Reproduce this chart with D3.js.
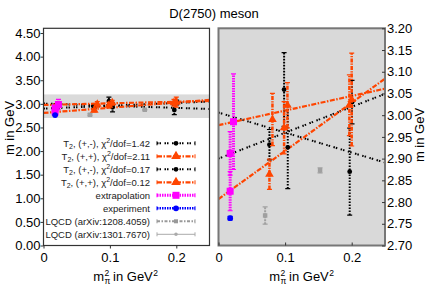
<!doctype html>
<html>
<head>
<meta charset="utf-8">
<title>D(2750) meson</title>
<script src="https://d3js.org/d3.v7.min.js"></script>
<style>
  body { margin: 0; background: #fff; }
  svg { display: block; font-family: "Liberation Sans", Arial, sans-serif; }
</style>
</head>
<body>
<svg id="chart" width="428" height="300"></svg>
<script>
// fit lines, value at m_pi^2 = 0 and at 0.25
const fitX = [0, 0.25];
const fitBlackA = [3.006, 2.891];
const fitBlackB = [2.900, 3.049];
const fitOrangeA = [2.977, 3.061];
const fitOrangeB = [2.807, 3.084];

// lattice points
const blackXA = [0.0765, 0.104, 0.2005];
const blackYA = [2.932, 2.926, 3.030];
const blackEA = [0.035, 0.095, 0.050];
const blackXB = [0.0985, 0.197];
const blackYB = [3.059, 2.870];
const blackEB = [0.085, 0.100];
const orangeXA = [0.081, 0.1035, 0.200];
const orangeYA = [2.990, 3.023, 3.036];
const orangeEA = [0.060, 0.052, 0.107];
const orangeXB = [0.0765, 0.0985, 0.1965];
const orangeYB = [2.864, 2.971, 3.023];
const orangeEB = [0.035, 0.060, 0.070];

const extrapX = [0.0225, 0.0175, 0.0175];
const extrapY = [2.985, 2.912, 2.825];
const extrapE = [0.110, 0.050, 0.045];
const expX = [0.0175];
const expY = [2.763];
const expE = [0.004];
const lqcdX = [0.070, 0.1525];
const lqcdY = [2.769, 2.873];
const lqcdE = [0.020, 0.006];

const xTicks = [0, 0.1, 0.2];
const leftYTicks = [0, 0.5, 1, 1.5, 2, 2.5, 3, 3.5, 4, 4.5];
const rightYTicks = [2.70, 2.75, 2.80, 2.85, 2.90, 2.95, 3.00, 3.05, 3.10, 3.15, 3.20];
const zoomBand = [2.7, 3.2];

const legendParity = ["(+,-)", "(+,+)", "(+,-)", "(+,+)"];
const legendChi = ["1.42", "2.11", "0.17", "0.12"];
const legendOther = ["extrapolation", "experiment", "LQCD (arXiv:1208.4059)", "LQCD (arXiv:1301.7670)"];

const ORANGE = "#ff4500";
const svg = d3.select("#chart");

const fits = [
  {y: fitBlackA, color: "#000", dash: "1.5,1,1.5,3.5", w: 2},
  {y: fitBlackB, color: "#000", dash: "1.5,1,1.5,3.5", w: 2},
  {y: fitOrangeA, color: ORANGE, dash: "5,1.5,1.5,1.5", w: 2.2},
  {y: fitOrangeB, color: ORANGE, dash: "5,1.5,1.5,1.5", w: 2.2}
];

const series = [
  {x: lqcdX, y: lqcdY, e: lqcdE, color: "#a0a0a0", dash: "2,1", w: 2, sym: d3.symbolSquare, size: 20},
  {x: blackXA, y: blackYA, e: blackEA, color: "#000", dash: "1.6,1.4", w: 2, sym: d3.symbolCircle, size: 18},
  {x: blackXB, y: blackYB, e: blackEB, color: "#000", dash: "1.6,1.4", w: 2, sym: d3.symbolCircle, size: 18},
  {x: orangeXA, y: orangeYA, e: orangeEA, color: ORANGE, dash: "4,1.2,1.2,1.2", w: 2.5, sym: d3.symbolTriangle, size: 32},
  {x: orangeXB, y: orangeYB, e: orangeEB, color: ORANGE, dash: "4,1.2,1.2,1.2", w: 2.5, sym: d3.symbolTriangle, size: 32},
  {x: extrapX, y: extrapY, e: extrapE, color: "#ff00ff", dash: "1.5,1", w: 3, sym: d3.symbolSquare, size: 49},
  {x: expX, y: expY, e: expE, color: "#0000ff", dash: null, w: 2, sym: d3.symbolCircle, size: 26}
];

function drawData(g, x, y, clipId) {
  const c = g.append("g").attr("clip-path", `url(#${clipId})`);
  const line = d3.line().x(d => x(d[0])).y(d => y(d[1]));
  fits.forEach(f => {
    c.append("path")
      .attr("d", line(fitX.map((v, i) => [v, f.y[i]])))
      .attr("fill", "none")
      .attr("stroke", f.color)
      .attr("stroke-width", f.w)
      .attr("stroke-dasharray", f.dash);
  });
  series.forEach(s => {
    s.x.forEach((m, i) => {
      const px = x(m), lo = y(s.y[i] - s.e[i]), hi = y(s.y[i] + s.e[i]);
      c.append("line")
        .attr("x1", px).attr("x2", px).attr("y1", lo).attr("y2", hi)
        .attr("stroke", s.color).attr("stroke-width", s.w)
        .attr("stroke-dasharray", s.dash);
      [lo, hi].forEach(cy => {
        c.append("line")
          .attr("x1", px - 2.5).attr("x2", px + 2.5).attr("y1", cy).attr("y2", cy)
          .attr("stroke", s.color).attr("stroke-width", 1.2);
      });
      c.append("path")
        .attr("d", d3.symbol().type(s.sym).size(s.size)())
        .attr("transform", `translate(${px},${y(s.y[i])})`)
        .attr("fill", s.color);
    });
  });
}

function xLabel(cx, base) {
  const grp = svg.append("g").attr("font-size", 13).attr("fill", "#000");
  const t1 = grp.append("text").attr("x", 0).attr("y", base).text("m");
  const w1 = t1.node().getComputedTextLength();
  grp.append("text").attr("x", w1 + 0.5).attr("y", base - 5.5).attr("font-size", 8.5).text("2");
  grp.append("text").attr("x", w1 + 0.5).attr("y", base + 3).attr("font-size", 8.5).text("π");
  const t2 = grp.append("text").attr("x", w1 + 9).attr("y", base).text("in GeV");
  const w2 = t2.node().getComputedTextLength();
  grp.append("text").attr("x", w1 + 9 + w2 + 0.5).attr("y", base - 5.5).attr("font-size", 8.5).text("2");
  const total = w1 + 9 + w2 + 6;
  grp.attr("transform", `translate(${cx - total / 2},0)`);
}

// ---------- left panel ----------
const xl = d3.scaleLinear().domain([0, 0.25]).range([43.5, 209.5]);
const yl = d3.scaleLinear().domain([0, 4.6]).range([245.5, 28.3]);

svg.append("defs").html(
  `<clipPath id="clipL"><rect x="43.5" y="28.3" width="166" height="217.2"/></clipPath>` +
  `<clipPath id="clipR"><rect x="218.5" y="28.3" width="166.5" height="217.2"/></clipPath>`);

const gl = svg.append("g");
gl.append("rect")
  .attr("x", xl(0)).attr("width", xl(0.25) - xl(0))
  .attr("y", yl(zoomBand[1])).attr("height", yl(zoomBand[0]) - yl(zoomBand[1]))
  .attr("fill", "#dadada");
drawData(gl, xl, yl, "clipL");
gl.append("rect")
  .attr("x", xl(0)).attr("y", yl(4.6)).attr("width", xl(0.25) - xl(0)).attr("height", yl(0) - yl(4.6))
  .attr("fill", "none").attr("stroke", "#333").attr("stroke-width", 1.2);

const axL = gl.append("g").attr("transform", `translate(${xl(0)},0)`)
  .call(d3.axisLeft(yl).tickValues(leftYTicks).tickFormat(d3.format(".2f")).tickSizeInner(3).tickSizeOuter(0).tickPadding(0));
const axLB = gl.append("g").attr("transform", `translate(0,${yl(0)})`)
  .call(d3.axisBottom(xl).tickValues(xTicks).tickFormat(d3.format("")).tickSizeInner(3).tickSizeOuter(0).tickPadding(4));

// ---------- right panel ----------
const xr = d3.scaleLinear().domain([0, 0.25]).range([218.5, 385]);
const yr = d3.scaleLinear().domain([2.7, 3.2]).range([245.5, 28.3]);

const gr = svg.append("g");
gr.append("rect")
  .attr("x", xr(0)).attr("y", yr(3.2)).attr("width", xr(0.25) - xr(0)).attr("height", yr(2.7) - yr(3.2))
  .attr("fill", "#d9d9d9");
drawData(gr, xr, yr, "clipR");
gr.append("rect")
  .attr("x", xr(0)).attr("y", yr(3.2)).attr("width", xr(0.25) - xr(0)).attr("height", yr(2.7) - yr(3.2))
  .attr("fill", "none").attr("stroke", "#777").attr("stroke-width", 2);

const axR = gr.append("g").attr("transform", `translate(${xr(0.25)},0)`)
  .call(d3.axisRight(yr).tickValues(rightYTicks).tickFormat(d3.format(".2f")).tickSizeInner(-3).tickSizeOuter(0).tickPadding(2));
const axRB = gr.append("g").attr("transform", `translate(0,${yr(2.7)})`)
  .call(d3.axisBottom(xr).tickValues(xTicks).tickFormat(d3.format("")).tickSizeInner(-3).tickSizeOuter(0).tickPadding(7));

[axL, axLB, axR, axRB].forEach(a => {
  a.select(".domain").remove();
  a.selectAll("text").attr("font-size", 13).attr("font-family", "Liberation Sans, Arial, sans-serif").attr("fill", "#000");
  a.selectAll(".tick line").attr("stroke", "#333");
});

// ---------- legend ----------
const lg = svg.append("g").attr("font-size", 9.5).attr("fill", "#222");
const rowY = i => 143.3 + i * 13;
const sx0 = 157, sx1 = 195, smid = 176;
const legendStyles = [
  {color: "#000", dash: "1.5,1,1.5,3.5", w: 2, sym: d3.symbolCircle, size: 18},
  {color: ORANGE, dash: "5,1.5,1.5,1.5", w: 2.2, sym: d3.symbolTriangle, size: 40},
  {color: "#000", dash: "1.5,1,1.5,3.5", w: 2, sym: d3.symbolCircle, size: 18},
  {color: ORANGE, dash: "5,1.5,1.5,1.5", w: 2.2, sym: d3.symbolTriangle, size: 40},
  {color: "#ff00ff", dash: "1.5,1", w: 3, sym: d3.symbolSquare, size: 49},
  {color: "#0000ff", dash: "1.5,1", w: 2.4, sym: d3.symbolCircle, size: 26},
  {color: "#999", dash: "3,1.5,1.5,1.5", w: 2, sym: d3.symbolSquare, size: 16},
  {color: "#aaa", dash: null, w: 1, sym: d3.symbolCircle, size: 10}
];

legendParity.forEach((p, i) => {
  const t = lg.append("text").attr("x", 150).attr("y", rowY(i) + 3.3).attr("text-anchor", "end");
  t.append("tspan").text("T");
  t.append("tspan").attr("dy", 2.5).attr("font-size", 7).text("2");
  t.append("tspan").attr("dy", -2.5).text(`, ${p}, χ`);
  t.append("tspan").attr("dy", -4).attr("font-size", 7).text("2");
  t.append("tspan").attr("dy", 4).text(`/dof=${legendChi[i]}`);
});
legendOther.forEach((s, i) => {
  lg.append("text").attr("x", 150).attr("y", rowY(i + 4) + 3.3).attr("text-anchor", "end").text(s);
});
legendStyles.forEach((s, i) => {
  const cy = rowY(i);
  lg.append("line").attr("x1", sx0).attr("x2", sx1).attr("y1", cy).attr("y2", cy)
    .attr("stroke", s.color).attr("stroke-width", s.w).attr("stroke-dasharray", s.dash);
  [sx0, sx1].forEach(ex => {
    lg.append("line").attr("x1", ex).attr("x2", ex).attr("y1", cy - 2).attr("y2", cy + 2)
      .attr("stroke", s.color).attr("stroke-width", 1);
  });
  lg.append("path").attr("d", d3.symbol().type(s.sym).size(s.size)())
    .attr("transform", `translate(${smid},${cy})`).attr("fill", s.color);
});

// ---------- titles ----------
svg.append("text").attr("x", 214).attr("y", 18).attr("text-anchor", "middle")
  .attr("font-size", 13).text("D(2750) meson");
svg.append("text").attr("transform", "translate(14,128) rotate(-90)").attr("text-anchor", "middle")
  .attr("font-size", 13).text("m in GeV");
svg.append("text").attr("transform", "translate(424,135) rotate(-90)").attr("text-anchor", "middle")
  .attr("font-size", 13).text("m in GeV");
xLabel(126, 281);
xLabel(302, 281);
</script>
</body>
</html>
